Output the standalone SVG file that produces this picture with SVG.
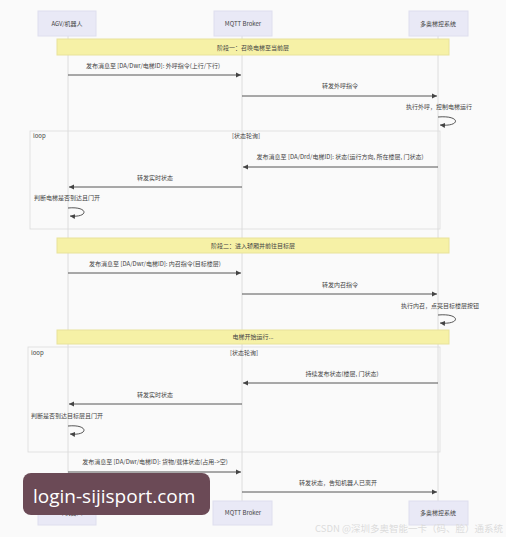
<svg xmlns="http://www.w3.org/2000/svg" width="506" height="537" viewBox="0 0 506 537">
<defs>
<style>
text{font-family:"Noto Sans CJK SC","Noto Sans",sans-serif;font-size:6px;fill:#444;}
.c{text-anchor:middle;}
.actor{fill:#e9e9f6;stroke:#dedeee;stroke-width:1;}
.life{stroke:#d6d6d6;stroke-width:0.8;}
.note{fill:#f6f1a6;stroke:#e8e29a;stroke-width:1;}
.msg{stroke:#444;stroke-width:0.9;fill:none;marker-end:url(#ah);}
.loopbox{fill:none;stroke:#dcdcdc;stroke-width:0.8;}
</style>
<marker id="ah" markerWidth="6" markerHeight="6" refX="5" refY="3" orient="auto" markerUnits="userSpaceOnUse">
<path d="M0,0.5 L5,3 L0,5.5 z" fill="#444"/>
</marker>
</defs>
<rect width="506" height="537" fill="#fafafa"/>

<g id="lifelines">
<line class="life" x1="68" y1="36" x2="68" y2="501"/>
<line class="life" x1="242" y1="36" x2="242" y2="501"/>
<line class="life" x1="438" y1="36" x2="438" y2="501"/>
</g>

<g id="actor-agv-top"><rect class="actor" x="38" y="11" width="58" height="25"/><text class="c" x="67" y="26">AGV/机器人</text></g>
<g id="actor-mqtt-top"><rect class="actor" x="214" y="11" width="58" height="25"/><text class="c" x="243" y="26">MQTT Broker</text></g>
<g id="actor-elev-top"><rect class="actor" x="409" y="11" width="59" height="25"/><text class="c" x="438" y="26">多奥梯控系统</text></g>

<g id="note1"><rect class="note" x="57" y="39" width="392" height="16"/><text class="c" x="253" y="50">阶段一：召唤电梯至当前层</text></g>

<g id="loop1"><rect class="loopbox" x="30" y="131" width="410" height="98"/><text x="33" y="138">loop</text><text class="c" x="246" y="138">[状态轮询]</text></g>

<g id="note2"><rect class="note" x="57" y="238" width="392" height="15"/><text class="c" x="253" y="248">阶段二：进入轿厢并前往目标层</text></g>

<g id="note3"><rect class="note" x="57" y="330" width="392" height="14"/><text class="c" x="253" y="339">电梯开始运行...</text></g>

<g id="loop2"><rect class="loopbox" x="28" y="347" width="412" height="105"/><text x="31" y="355">loop</text><text class="c" x="244" y="355">[状态轮询]</text></g>

<g id="connectors">
<text class="c" x="153" y="68">发布消息至 [DA/Dwr/电梯ID]: 外呼指令(上行/下行)</text>
<line class="msg" x1="68" y1="75" x2="241" y2="75"/>
<text class="c" x="340" y="88">转发外呼指令</text>
<line class="msg" x1="242" y1="96" x2="437" y2="96"/>
<text class="c" x="439" y="109">执行外呼，控制电梯运行</text>
<path class="msg" d="M438,117 C461,115 461,127 440,125"/>

<text class="c" x="340" y="159">发布消息至 [DA/Drd/电梯ID]: 状态(运行方向, 所在楼层, 门状态)</text>
<line class="msg" x1="438" y1="167" x2="243" y2="167"/>
<text class="c" x="155" y="180">转发实时状态</text>
<line class="msg" x1="242" y1="187" x2="69" y2="187"/>
<text class="c" x="67" y="200">判断电梯是否到达且门开</text>
<path class="msg" d="M68,208 C89,206 89,218 70,216"/>

<text class="c" x="155" y="266">发布消息至 [DA/Dwr/电梯ID]: 内召指令(目标楼层)</text>
<line class="msg" x1="68" y1="273" x2="241" y2="273"/>
<text class="c" x="340" y="287">转发内召指令</text>
<line class="msg" x1="242" y1="294" x2="437" y2="294"/>
<text class="c" x="440" y="308">执行内召，点亮目标楼层按钮</text>
<path class="msg" d="M438,315 C461,313 461,325 440,323"/>

<text class="c" x="342" y="376">持续发布状态(楼层, 门状态)</text>
<line class="msg" x1="438" y1="383" x2="243" y2="383"/>
<text class="c" x="155" y="397">转发实时状态</text>
<line class="msg" x1="242" y1="404" x2="69" y2="404"/>
<text class="c" x="67" y="418">判断是否到达目标层且门开</text>
<path class="msg" d="M68,426 C89,424 89,436 70,434"/>

<text class="c" x="155" y="464">发布消息至 [DA/Dwr/电梯ID]: 货物/载体状态(占用->空)</text>
<line class="msg" x1="68" y1="472" x2="241" y2="472"/>
<text class="c" x="338" y="485">转发状态，告知机器人已离开</text>
<line class="msg" x1="242" y1="492" x2="437" y2="492"/>
</g>

<g id="actor-agv-bottom"><rect class="actor" x="38" y="501" width="58" height="24"/><text class="c" x="67" y="515">AGV/机器人</text></g>
<g id="actor-mqtt-bottom"><rect class="actor" x="213" y="501" width="59" height="24"/><text class="c" x="243" y="515">MQTT Broker</text></g>
<g id="actor-elev-bottom"><rect class="actor" x="409" y="501" width="59" height="24"/><text class="c" x="438" y="515">多奥梯控系统</text></g>

<g id="watermark">
<rect x="23" y="473" width="187" height="42" rx="8" fill="#6b4a56"/>
<text x="33" y="503" style="font-family:'Open Sans','Noto Sans',sans-serif;font-size:19px;fill:#ffffff;">login-sijisport.com</text>
<text x="503" y="532" style="font-size:9.5px;fill:#dcdcdc;text-anchor:end;">CSDN @深圳多奥智能一卡（码、脸）通系统</text>
</g>
</svg>
